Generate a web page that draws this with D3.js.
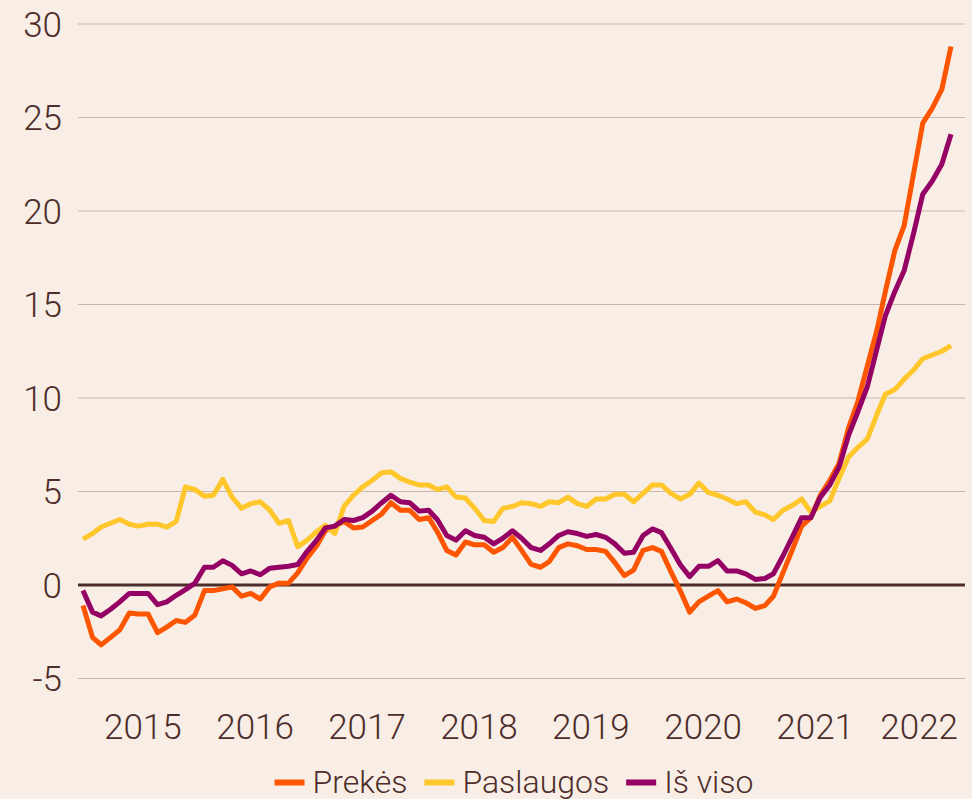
<!DOCTYPE html>
<html>
<head>
<meta charset="utf-8">
<script src="https://cdn.jsdelivr.net/npm/d3@7"></script>
<style>
  html, body { margin: 0; padding: 0; background: #f9eee5; }
  svg { display: block; }
  text { font-family: Roboto, "Noto Sans", sans-serif; font-weight: 300; fill: #4d2d2b; }
</style>
</head>
<body>
<svg id="chart" width="972" height="799"></svg>
<script>
// monthly values, Jan 2015 .. Oct 2022
const startDate = new Date(2015, 0, 1);

const prekes = [
  -1.1, -2.8, -3.2, -2.8, -2.4, -1.5, -1.55, -1.55, -2.55, -2.25,
  -1.9, -2.0, -1.6, -0.3, -0.3, -0.2, -0.1, -0.6, -0.45, -0.75,
  -0.1, 0.1, 0.1, 0.65, 1.45, 2.1, 2.9, 3.15, 3.4, 3.05,
  3.1, 3.45, 3.8, 4.4, 4.0, 4.0, 3.5, 3.6, 2.85, 1.85,
  1.6, 2.3, 2.15, 2.15, 1.75, 2.0, 2.55, 1.85, 1.1, 0.95,
  1.25, 2.0, 2.2, 2.1, 1.9, 1.9, 1.8, 1.2, 0.5, 0.8,
  1.85, 2.0, 1.8, 0.7, -0.3, -1.45, -0.9, -0.6, -0.3, -0.9,
  -0.75, -0.95, -1.25, -1.1, -0.6, 0.65, 1.85, 3.15, 3.6, 4.8,
  5.6, 6.5, 8.4, 9.8, 11.7, 13.6, 15.7, 17.9, 19.2, 22.0,
  24.7, 25.5, 26.5, 28.8
];

const paslaugos = [
  2.45, 2.75, 3.1, 3.3, 3.5, 3.25, 3.15, 3.25, 3.25, 3.1,
  3.4, 5.25, 5.1, 4.75, 4.8, 5.65, 4.7, 4.1, 4.35, 4.45,
  4.0, 3.3, 3.45, 2.05, 2.4, 2.85, 3.2, 2.75, 4.2, 4.8,
  5.25, 5.6, 6.0, 6.05, 5.7, 5.5, 5.35, 5.35, 5.1, 5.25,
  4.7, 4.65, 4.1, 3.45, 3.4, 4.1, 4.2, 4.4, 4.35, 4.2,
  4.45, 4.4, 4.7, 4.35, 4.2, 4.6, 4.6, 4.85, 4.85, 4.45,
  4.9, 5.35, 5.35, 4.9, 4.6, 4.85, 5.45, 4.95, 4.8, 4.6,
  4.35, 4.45, 3.9, 3.75, 3.5, 4.0, 4.25, 4.6, 3.9, 4.2,
  4.5, 5.7, 6.85, 7.35, 7.8, 9.1, 10.2, 10.45, 11.0, 11.5,
  12.1, 12.3, 12.5, 12.8
];

const isViso = [
  -0.3, -1.45, -1.65, -1.3, -0.9, -0.45, -0.45, -0.45, -1.05, -0.9,
  -0.55, -0.25, 0.1, 0.95, 0.95, 1.3, 1.05, 0.6, 0.75, 0.55,
  0.9, 0.95, 1.0, 1.1, 1.8, 2.4, 3.05, 3.15, 3.5, 3.45,
  3.6, 3.95, 4.4, 4.8, 4.45, 4.4, 3.95, 4.0, 3.5, 2.65,
  2.4, 2.9, 2.65, 2.55, 2.2, 2.5, 2.9, 2.5, 2.0, 1.85,
  2.2, 2.65, 2.85, 2.75, 2.6, 2.7, 2.55, 2.2, 1.7, 1.75,
  2.65, 3.0, 2.8, 1.95, 1.1, 0.45, 1.0, 1.0, 1.3, 0.75,
  0.75, 0.6, 0.3, 0.35, 0.6, 1.55, 2.55, 3.6, 3.6, 4.7,
  5.35, 6.3, 8.0, 9.25, 10.6, 12.6, 14.4, 15.7, 16.8, 18.8,
  20.9, 21.6, 22.5, 24.1
];

const yTicks = [-5, 0, 5, 10, 15, 20, 25, 30];
const yearLabels = [2015, 2016, 2017, 2018, 2019, 2020, 2021, 2022];

const series = [
  { name: 'Prekės', values: prekes, color: '#fd5500' },
  { name: 'Paslaugos', values: paslaugos, color: '#ffc72c' },
  { name: 'Iš viso', values: isViso, color: '#950064' }
];

const gridLeft = 78, gridRight = 965;
const axisFont = '35px';

const months = prekes.map((d, i) => d3.timeMonth.offset(startDate, i));

const x = d3.scaleTime()
  .domain([months[0], months[months.length - 1]])
  .range([83, 951]);

const y = d3.scaleLinear()
  .domain([-5, 30])
  .range([678.5, 24]);

const svg = d3.select('#chart');

// grid lines
svg.append('g')
  .selectAll('line')
  .data(yTicks.filter(t => t !== 0))
  .join('line')
  .attr('x1', gridLeft)
  .attr('x2', gridRight)
  .attr('y1', d => y(d))
  .attr('y2', d => y(d))
  .attr('stroke', '#c9b6ae')
  .attr('stroke-width', 1.2);

// y labels
svg.append('g')
  .selectAll('text')
  .data(yTicks)
  .join('text')
  .attr('x', 62)
  .attr('y', d => y(d))
  .attr('dy', '0.36em')
  .attr('text-anchor', 'end')
  .style('font-size', axisFont)
  .text(d => d);

// x labels, centred mid-year
const xl = svg.append('g')
  .selectAll('text')
  .data(yearLabels)
  .join('text')
  .attr('x', d => x(new Date(d, 6, 15)))
  .attr('y', 739)
  .attr('text-anchor', 'middle')
  .style('font-size', axisFont)
  .text(d => d);

// keep the last label inside the plot
xl.each(function () {
  const b = this.getBBox();
  if (b.x + b.width > 958) {
    d3.select(this).attr('x', 958 - b.width / 2);
  }
});

// zero line
svg.append('line')
  .attr('x1', gridLeft)
  .attr('x2', gridRight)
  .attr('y1', y(0))
  .attr('y2', y(0))
  .attr('stroke', '#4d2d2b')
  .attr('stroke-width', 3);

const line = d3.line()
  .x((d, i) => x(months[i]))
  .y(d => y(d));

svg.append('g')
  .selectAll('path')
  .data(series)
  .join('path')
  .attr('d', d => line(d.values))
  .attr('fill', 'none')
  .attr('stroke', d => d.color)
  .attr('stroke-width', 5)
  .attr('stroke-linejoin', 'round');

// legend
const legend = svg.append('g');
let lx = 0;
series.forEach(s => {
  const item = legend.append('g').attr('transform', `translate(${lx},0)`);
  item.append('rect')
    .attr('x', 0)
    .attr('y', 779.5)
    .attr('width', 30)
    .attr('height', 6)
    .attr('fill', s.color);
  const t = item.append('text')
    .attr('x', 38)
    .attr('y', 793)
    .style('font-size', '32px')
    .text(s.name);
  lx += 38 + t.node().getComputedTextLength() + 17;
});
const lw = lx - 17;
legend.attr('transform', `translate(${514 - lw / 2},0)`);
</script>
</body>
</html>
